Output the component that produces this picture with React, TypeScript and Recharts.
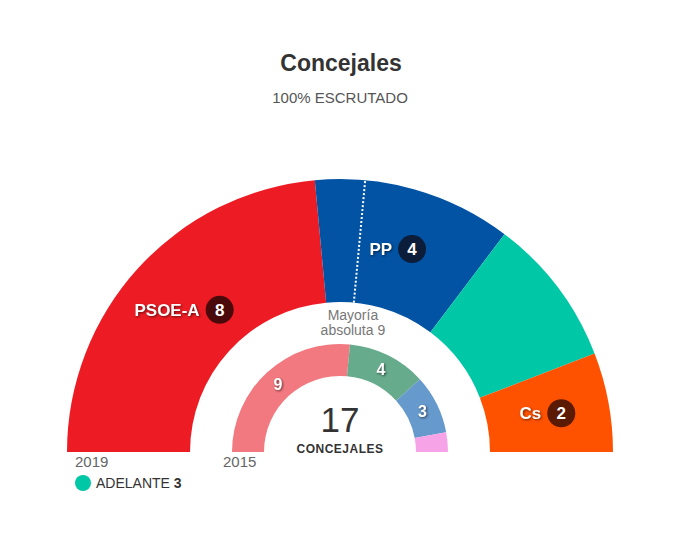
import React from 'react';
import { PieChart, Pie, Cell, Customized } from 'recharts';

// 2019 (outer ring)
const parties2019 = ['PSOE-A', 'PP', 'ADELANTE', 'Cs'];
const seats2019 = [8, 4, 3, 2];
const colors2019 = ['#ED1C24', '#0353A4', '#00C7A5', '#FF5200'];
const badges2019 = ['#4A0A0C', '#0B1D38', '', '#5A1A04'];

// 2015 (inner ring)
const seats2015 = [9, 4, 3, 1];
const colors2015 = ['#F27980', '#67AB8D', '#6699CC', '#F7A3E8'];

const totalSeats = 17;
const majority = 9;
const legendParty = 'ADELANTE';
const legendSeats = 3;

const outerData = parties2019.map((name, i) => ({ name, value: seats2019[i] }));
const innerData = seats2015.map((value, i) => ({ name: `p${i}`, value }));

const W = 680;
const H = 553;
const CX = 340;
const CY = 452;
const RAD = Math.PI / 180;
const FONT = '"Liberation Sans", Arial, sans-serif';
const SHADOW = 'drop-shadow(1px 1px 1px rgba(0,0,0,0.55))';

// rough Arial Bold widths in em
const boldWidths: Record<string, number> = {
  P: 0.667, S: 0.667, O: 0.778, E: 0.667, '-': 0.333, A: 0.722, C: 0.722, s: 0.556,
};
const textWidth = (t: string, size: number) =>
  t.split('').reduce((sum, ch) => sum + (boldWidths[ch] ?? 0.65), 0) * size;

const polar = (r: number, angle: number) => ({
  x: CX + r * Math.cos(-angle * RAD),
  y: CY + r * Math.sin(-angle * RAD),
});

// dotted majority line, drawn with the labels so it sits above the sectors
const MajorityLine = () => {
  const angle = 180 - (majority / totalSeats) * 180;
  const a = polar(150, angle);
  const b = polar(272, angle);
  return (
    <line x1={a.x} y1={a.y} x2={b.x} y2={b.y} stroke="#fff" strokeWidth={2} strokeDasharray="2 2" />
  );
};

const OuterLabel = (props: any) => {
  const { midAngle, index } = props;
  const badge = badges2019[index];
  const line = index === 0 ? <MajorityLine /> : null;
  if (!badge) return <g>{line}</g>;
  const name = parties2019[index];
  const { x, y } = polar(211, midAngle);
  const tw = textWidth(name, 17);
  const start = x - (tw + 6 + 28) / 2;
  const bx = start + tw + 6 + 14;
  return (
    <g fontFamily={FONT} fontWeight={700} fontSize={17}>
      {line}
      <text x={start} y={y} dy="0.35em" fill="#fff" style={{ filter: SHADOW }}>
        {name}
      </text>
      <circle cx={bx} cy={y} r={14} fill={badge} />
      <text x={bx} y={y} dy="0.36em" textAnchor="middle" fill="#fff">
        {seats2019[index]}
      </text>
    </g>
  );
};

const InnerLabel = (props: any) => {
  const { midAngle, index } = props;
  if (seats2015[index] < 2) return null;
  const { x, y } = polar(92, midAngle);
  return (
    <text
      x={x}
      y={y}
      dy="0.36em"
      textAnchor="middle"
      fill="#fff"
      fontFamily={FONT}
      fontWeight={700}
      fontSize={16}
      style={{ filter: SHADOW }}
    >
      {seats2015[index]}
    </text>
  );
};

const Overlay = () => {
  const angle = 180 - (majority / totalSeats) * 180;
  const t = polar(140, angle);
  return (
    <g fontFamily={FONT}>
      <text x={341} y={71} textAnchor="middle" fontSize={23} fontWeight={700} fill="#333">
        Concejales
      </text>
      <text x={340} y={103} textAnchor="middle" fontSize={15} fill="#555">
        100% ESCRUTADO
      </text>
      <text x={t.x} y={320} textAnchor="middle" fontSize={14} fill="#777">
        Mayoría
      </text>
      <text x={t.x} y={335} textAnchor="middle" fontSize={14} fill="#777">
        absoluta {majority}
      </text>
      <text x={CX} y={432} textAnchor="middle" fontSize={35} fill="#333">
        {totalSeats}
      </text>
      <text x={CX} y={453} textAnchor="middle" fontSize={12} fontWeight={700} letterSpacing={0.5} fill="#333">
        CONCEJALES
      </text>
      <text x={75} y={467} fontSize={15} fill="#666">2019</text>
      <text x={223} y={467} fontSize={15} fill="#666">2015</text>
      <circle cx={83} cy={483} r={8} fill={colors2019[2]} />
      <text x={96} y={488} fontSize={14} fill="#333">
        {legendParty} <tspan fontWeight={700}>{legendSeats}</tspan>
      </text>
    </g>
  );
};

export default function App() {
  return (
    <div style={{ position: 'absolute', left: 0, top: 0, background: '#fff' }}>
      <PieChart width={W} height={H} margin={{ top: 0, right: 0, bottom: 0, left: 0 }}>
        <Pie
          data={outerData}
          dataKey="value"
          cx={CX}
          cy={CY}
          startAngle={180}
          endAngle={0}
          innerRadius={150}
          outerRadius={273}
          stroke="none"
          label={OuterLabel}
          labelLine={false}
          isAnimationActive={false}
        >
          {outerData.map((d, i) => (
            <Cell key={d.name} fill={colors2019[i]} />
          ))}
        </Pie>
        <Pie
          data={innerData}
          dataKey="value"
          cx={CX}
          cy={CY}
          startAngle={180}
          endAngle={0}
          innerRadius={76}
          outerRadius={108}
          stroke="none"
          label={InnerLabel}
          labelLine={false}
          isAnimationActive={false}
        >
          {innerData.map((d, i) => (
            <Cell key={d.name} fill={colors2015[i]} />
          ))}
        </Pie>
        <Customized component={<Overlay />} />
      </PieChart>
    </div>
  );
}
